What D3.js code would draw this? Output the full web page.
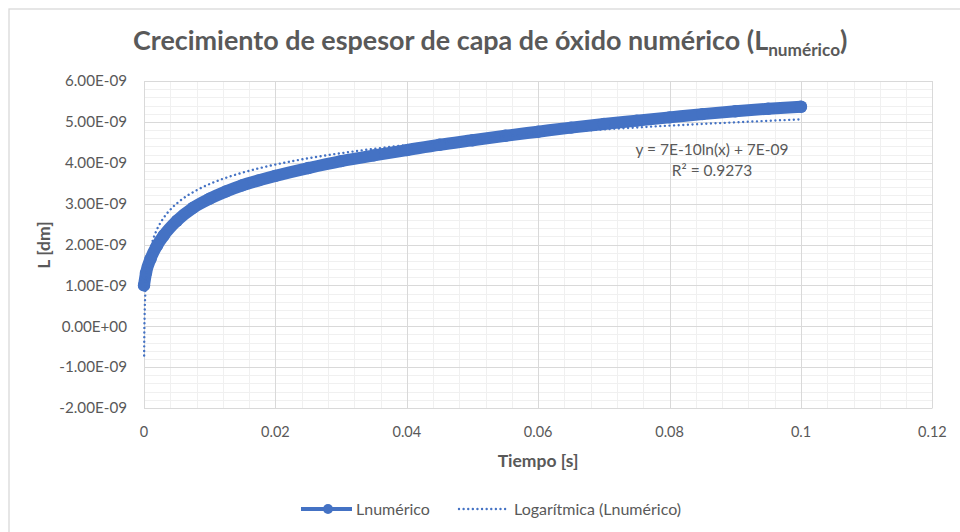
<!DOCTYPE html>
<html>
<head>
<meta charset="utf-8">
<script src="https://cdn.jsdelivr.net/npm/d3@7"></script>
<style>
  html, body { margin: 0; padding: 0; background: #ffffff; }
  svg { display: block; }
  text { font-family: Lato, "Open Sans", sans-serif; fill: #595959; }
</style>
</head>
<body>
<svg id="chart" width="960" height="532"></svg>
<script>
// Oxide layer thickness L [dm] over time [s]
const tiempo = [0, 0.0003, 0.001, 0.002, 0.003, 0.005, 0.0075, 0.01, 0.0125, 0.015,
  0.0175, 0.02, 0.025, 0.03, 0.035, 0.04, 0.045, 0.05, 0.055, 0.06,
  0.065, 0.07, 0.075, 0.08, 0.085, 0.09, 0.095, 0.1];
const lNumerico = [1.00e-9, 1.30e-9, 1.65e-9, 1.98e-9, 2.22e-9, 2.58e-9, 2.90e-9, 3.12e-9, 3.30e-9, 3.45e-9,
  3.57e-9, 3.68e-9, 3.87e-9, 4.04e-9, 4.18e-9, 4.31e-9, 4.44e-9, 4.55e-9, 4.66e-9, 4.76e-9,
  4.86e-9, 4.95e-9, 5.03e-9, 5.11e-9, 5.19e-9, 5.26e-9, 5.32e-9, 5.37e-9];

// Logarithmic trendline  y = a ln(x) + b  over [trendStart, trendEnd]
const trendSlope = 6.86e-10;
const trendIntercept = 6.64e-9;
const trendR2 = 0.9273;
const trendStart = 2.2e-5;
const trendEnd = 0.1;

// Axis ticks
const xTicks = [0, 0.02, 0.04, 0.06, 0.08, 0.1, 0.12];
const yTicks = [-2e-9, -1e-9, 0, 1e-9, 2e-9, 3e-9, 4e-9, 5e-9, 6e-9];

const titleMain = "Crecimiento de espesor de capa de óxido numérico (L";
const titleSub = "numérico";
const titleEnd = ")";
const xTitle = "Tiempo [s]";
const yTitle = "L [dm]";
const seriesName = "Lnumérico";
const trendName = "Logarítmica (Lnumérico)";

const blue = "#4472C4";
const svg = d3.select("#chart");

// outer chart frame
svg.append("rect")
  .attr("x", 9).attr("y", 9).attr("width", 1000).attr("height", 1000)
  .attr("fill", "#fff").attr("stroke", "#d9d9d9").attr("stroke-width", 1.3);

const plot = { left: 144, right: 932.4, top: 81, bottom: 408 };
const x = d3.scaleLinear().domain([0, 0.12]).range([plot.left, plot.right]);
const y = d3.scaleLinear().domain([-2e-9, 6e-9]).range([plot.bottom, plot.top]);

// minor gridlines
const g = svg.append("g");
const xMinor = d3.range(0, 30 + 1).map(i => i * 0.004);
const yMinor = d3.range(0, 40 + 1).map(i => -2e-9 + i * 0.2e-9);
g.selectAll(".xm").data(xMinor).join("line")
  .attr("x1", d => Math.round(x(d)) + 0.5).attr("x2", d => Math.round(x(d)) + 0.5)
  .attr("y1", plot.top).attr("y2", plot.bottom)
  .attr("stroke", "#f0f0f0").attr("stroke-width", 1);
g.selectAll(".ym").data(yMinor).join("line")
  .attr("y1", d => Math.round(y(d)) + 0.5).attr("y2", d => Math.round(y(d)) + 0.5)
  .attr("x1", plot.left).attr("x2", plot.right)
  .attr("stroke", "#f0f0f0").attr("stroke-width", 1);

// major gridlines
g.selectAll(".xM").data(xTicks).join("line")
  .attr("x1", d => Math.round(x(d)) + 0.5).attr("x2", d => Math.round(x(d)) + 0.5)
  .attr("y1", plot.top).attr("y2", plot.bottom)
  .attr("stroke", "#d9d9d9").attr("stroke-width", 1);
g.selectAll(".yM").data(yTicks).join("line")
  .attr("y1", d => Math.round(y(d)) + 0.5).attr("y2", d => Math.round(y(d)) + 0.5)
  .attr("x1", plot.left).attr("x2", plot.right)
  .attr("stroke", "#d9d9d9").attr("stroke-width", 1);

// tick labels
const sci = (v, digits) => {
  const s = v.toExponential(digits).toUpperCase();
  return s.replace(/E([+-])(\d)$/, "E$10$2");
};
svg.append("g").selectAll("text").data(yTicks).join("text")
  .attr("x", 127).attr("y", d => y(d)).attr("dy", "0.35em")
  .attr("text-anchor", "end").attr("font-size", 15.2)
  .text(d => sci(d, 2));
svg.append("g").selectAll("text").data(xTicks).join("text")
  .attr("x", d => x(d)).attr("y", 432).attr("dy", "0.35em")
  .attr("text-anchor", "middle").attr("font-size", 14.5)
  .text(d => String(+d.toFixed(3)));

// axis titles
svg.append("text").attr("x", 538).attr("y", 461).attr("dy", "0.35em")
  .attr("text-anchor", "middle").attr("font-size", 17.5).attr("font-weight", 700)
  .text(xTitle);
svg.append("text").attr("transform", "translate(44,245) rotate(-90)")
  .attr("dy", "0.35em").attr("text-anchor", "middle")
  .attr("font-size", 17.5).attr("font-weight", 700)
  .text(yTitle);

// data series: thick line with dense markers
const pts = tiempo.map((t, i) => [t, lNumerico[i]]);
const line = d3.line().x(d => x(d[0])).y(d => y(d[1])).curve(d3.curveMonotoneX);
svg.append("path").datum(pts).attr("d", line)
  .attr("fill", "none").attr("stroke", blue).attr("stroke-width", 12)
  .attr("stroke-linejoin", "round").attr("stroke-linecap", "round");
svg.append("g").selectAll("circle").data(pts).join("circle")
  .attr("cx", d => x(d[0])).attr("cy", d => y(d[1])).attr("r", 6.2)
  .attr("fill", blue);

// logarithmic trendline (dotted)
const trendXs = d3.range(0, 401).map(i =>
  Math.exp(Math.log(trendStart) + (Math.log(trendEnd) - Math.log(trendStart)) * i / 400));
const trendPts = trendXs.map(v => [v, trendSlope * Math.log(v) + trendIntercept]);
svg.append("path").datum(trendPts)
  .attr("d", d3.line().x(d => x(d[0])).y(d => y(d[1])))
  .attr("fill", "none").attr("stroke", blue).attr("stroke-width", 2.4)
  .attr("stroke-dasharray", "0.01 4.6").attr("stroke-linecap", "round");

// trendline equation
const eq = `y = ${sci(trendSlope, 0)}ln(x) + ${sci(trendIntercept, 0)}`;
svg.append("text").attr("x", 712).attr("y", 150).attr("dy", "0.35em")
  .attr("text-anchor", "middle").attr("font-size", 15.5).text(eq);
svg.append("text").attr("x", 712).attr("y", 171).attr("dy", "0.35em")
  .attr("text-anchor", "middle").attr("font-size", 15.5)
  .text(`R² = ${trendR2.toFixed(4)}`);

// title with subscript
const title = svg.append("text").attr("x", 133).attr("y", 50)
  .attr("font-weight", 700).attr("font-size", 25);
title.append("tspan").text(titleMain);
title.append("tspan").attr("font-size", 16).attr("dy", 6).text(titleSub);
title.append("tspan").attr("dy", -6).text(titleEnd);
// fit title width to its slot
const targetW = 715;
const w = title.node().getComputedTextLength();
const k = targetW / w;
title.attr("font-size", 25 * k);
title.select("tspan:nth-child(2)").attr("font-size", 16 * k);

// legend
const ly = 509;
const lg = svg.append("g");
lg.append("line").attr("x1", 301).attr("x2", 352).attr("y1", ly).attr("y2", ly)
  .attr("stroke", blue).attr("stroke-width", 4);
lg.append("circle").attr("cx", 328).attr("cy", ly).attr("r", 5).attr("fill", blue);
lg.append("text").attr("x", 356).attr("y", ly).attr("dy", "0.35em")
  .attr("font-size", 16).text(seriesName);
lg.append("line").attr("x1", 459).attr("x2", 508).attr("y1", ly).attr("y2", ly)
  .attr("stroke", blue).attr("stroke-width", 2.4)
  .attr("stroke-dasharray", "0.01 4.6").attr("stroke-linecap", "round");
lg.append("text").attr("x", 514).attr("y", ly).attr("dy", "0.35em")
  .attr("font-size", 16).text(trendName);
</script>
</body>
</html>
